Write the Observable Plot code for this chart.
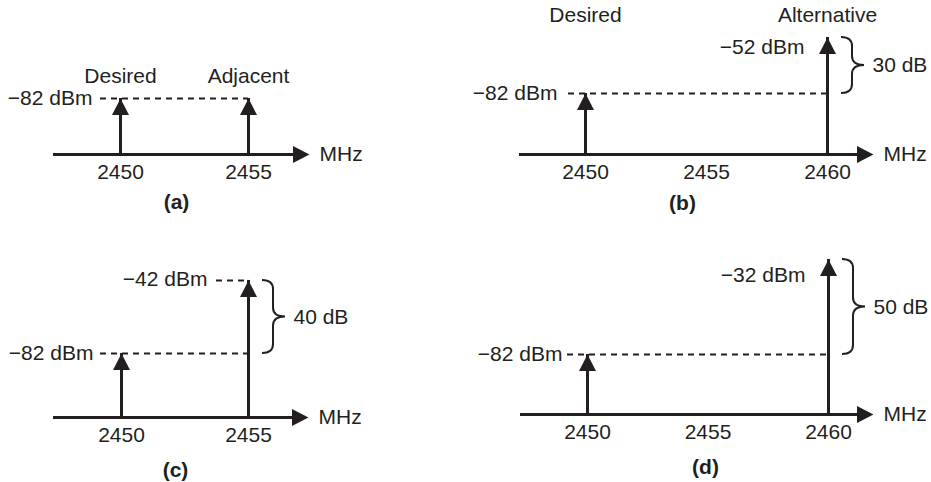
<!DOCTYPE html>
<html>
<head>
<meta charset="utf-8">
<script src="https://cdn.jsdelivr.net/npm/d3@7"></script>
<script src="https://cdn.jsdelivr.net/npm/@observablehq/plot@0.6"></script>
<style>
  body { margin: 0; background: #fff; }
  #chart { position: relative; width: 931px; height: 482px; font-family: "Liberation Sans", Arial, Helvetica, sans-serif; }
  #chart svg { position: absolute; overflow: visible; }
</style>
</head>
<body>
<div id="chart"></div>
<script>
// ---- Data ----
const panelLabels     = ["(a)", "(b)", "(c)", "(d)"];
const desiredFreq     = [2450, 2450, 2450, 2450];      // MHz
const desiredPower    = [-82, -82, -82, -82];          // dBm
const interfererFreq  = [2455, 2460, 2455, 2460];      // MHz
const interfererPower = [-82, -52, -42, -32];          // dBm
const rejectionDb     = [null, 30, 40, 50];            // dB difference shown by brace
const tickValues      = [[2450, 2455], [2450, 2455, 2460], [2450, 2455], [2450, 2455, 2460]];
const signalNames     = [["Desired", "Adjacent"], ["Desired", "Alternative"], [], []];
const unitLabel       = "MHz";

// ---- Layout / styling (not data) ----
const ink = "#231f20";
const layout = [
  {left: 0,   top: 0,   width: 440, height: 240, mL: 53, mR: 131, mB: 86, xIn: [67, 61], yDom: [-112, -29.5],
   names: "above", intLabel: null, dashIn: -20, descDx: -28, cap: {dx: -5, dy: 48}},
  {left: 440, top: 0,   width: 491, height: 240, mL: 79, mR: 58,  mB: 86, xIn: [66, 46], yDom: [-114.7, -32.2],
   names: "top", intLabel: {dx: -23, dy: 10, dash: null}, dashIn: -17, descDx: -28, cap: {dx: -14, dy: 49}},
  {left: 0,   top: 240, width: 440, height: 242, mL: 53, mR: 132, mB: 65, xIn: [68, 60], yDom: [-117.1, -20.1],
   names: null, intLabel: {dx: -41, dy: -1, dash: -32}, dashIn: -21, descDx: -28, cap: {dx: -5.5, dy: 53}},
  {left: 440, top: 240, width: 491, height: 242, mL: 80, mR: 58,  mB: 68, xIn: [67, 45], yDom: [-113.6, -22],
   names: null, intLabel: {dx: -23, dy: 16, dash: null}, dashIn: -20, descDx: -25, cap: {dx: 8.5, dy: 53}}
];

// filled arrowhead with its tip at the origin, pointing up
const arrowHead = {
  draw(ctx) {
    ctx.moveTo(0, 0);
    ctx.lineTo(8.5, 16.5);
    ctx.lineTo(-8.5, 16.5);
    ctx.closePath();
  }
};

const fmtDbm = v => (v < 0 ? "\u2212" : "") + Math.abs(v) + " dBm";

// curly brace drawn through the plot's scales
function braceMark(freq, pTop, pBot) {
  return (index, scales) => {
    const xs = scales.x(freq);
    const yT = scales.y(pTop), yB = scales.y(pBot);
    const yM = (yT + yB) / 2;
    const xe = xs + 14, xsp = xs + 25, xt = xs + 37, r = 9;
    const p = document.createElementNS("http://www.w3.org/2000/svg", "path");
    p.setAttribute("d",
      `M${xe},${yT} Q${xsp},${yT} ${xsp},${yT + r} L${xsp},${yM - r} Q${xsp},${yM} ${xt},${yM}` +
      ` Q${xsp},${yM} ${xsp},${yM + r} L${xsp},${yB - r} Q${xsp},${yB} ${xe},${yB}`);
    p.setAttribute("fill", "none");
    p.setAttribute("stroke", ink);
    p.setAttribute("stroke-width", 2);
    return p;
  };
}

const container = document.getElementById("chart");
const fs = 21;
const txt = {fontSize: fs, fill: ink, lineAnchor: "middle"};

panelLabels.forEach((label, i) => {
  const L = layout[i];
  const fd = desiredFreq[i], pd = desiredPower[i], fi = interfererFreq[i], pi = interfererPower[i];
  const floor = L.yDom[0];
  const signals = [{f: fd, p: pd, b: floor}, {f: fi, p: pi, b: floor}];
  const marks = [];

  // frequency axis with arrow
  marks.push(Plot.ruleY([floor], {stroke: ink, strokeWidth: 3, insetRight: 8}));
  marks.push(Plot.dot([0], {frameAnchor: "bottom-right", symbol: arrowHead, rotate: 90, fill: ink, stroke: "none"}));
  marks.push(Plot.text([unitLabel], {...txt, frameAnchor: "bottom-right", text: d => d, dx: 10, textAnchor: "start"}));

  // tick labels
  marks.push(Plot.text(tickValues[i], {...txt, x: d => d, frameAnchor: "bottom", dy: 18, text: d => String(d), textAnchor: "middle"}));

  // dashed reference at desired level
  marks.push(Plot.ruleY([{x1: fd, x2: fi, y: pd}], {x1: "x1", x2: "x2", y: "y", insetLeft: L.dashIn,
    stroke: ink, strokeWidth: 2, strokeDasharray: "6,5"}));

  // stems + arrowheads
  marks.push(Plot.ruleX(signals, {x: "f", y1: "p", y2: "b", stroke: ink, strokeWidth: 3}));
  marks.push(Plot.dot(signals, {x: "f", y: "p", symbol: arrowHead, fill: ink, stroke: "none"}));

  // desired level label
  marks.push(Plot.text([pd], {...txt, x: () => fd, y: d => d, text: fmtDbm, textAnchor: "end", dx: L.descDx}));

  // interferer level label
  if (L.intLabel) {
    marks.push(Plot.text([pi], {...txt, x: () => fi, y: d => d, text: fmtDbm, textAnchor: "end",
      dx: L.intLabel.dx, dy: L.intLabel.dy}));
    if (L.intLabel.dash != null) {
      marks.push(Plot.ruleY([{x1: fi, x2: fi, y: pi}], {x1: "x1", x2: "x2", y: "y", insetLeft: L.intLabel.dash,
        stroke: ink, strokeWidth: 2, strokeDasharray: "6,5"}));
    }
  }

  // signal names
  const names = signalNames[i].map((n, j) => ({n, f: signals[j].f, p: signals[j].p}));
  if (L.names === "above") {
    marks.push(Plot.text(names, {...txt, x: "f", y: "p", text: "n", dy: -22}));
  } else if (L.names === "top") {
    marks.push(Plot.text(names, {...txt, x: "f", frameAnchor: "top", text: "n", dy: 15, textAnchor: "middle"}));
  }

  // brace and dB difference
  if (rejectionDb[i] != null) {
    marks.push(braceMark(fi, pi, pd));
    marks.push(Plot.text([rejectionDb[i]], {...txt, x: () => fi, y: () => (pd + pi) / 2, text: d => d + " dB",
      dx: 45, textAnchor: "start"}));
  }

  // panel caption
  marks.push(Plot.text([label], {...txt, frameAnchor: "bottom", text: d => d, dx: L.cap.dx, dy: L.cap.dy,
    textAnchor: "middle", fontWeight: "bold"}));

  const svg = Plot.plot({
    width: L.width,
    height: L.height,
    marginLeft: L.mL,
    marginRight: L.mR,
    marginTop: 0,
    marginBottom: L.mB,
    x: {domain: [2450, tickValues[i][tickValues[i].length - 1]], insetLeft: L.xIn[0], insetRight: L.xIn[1], axis: null},
    y: {domain: L.yDom, axis: null},
    style: {fontFamily: "'Liberation Sans', Arial, Helvetica, sans-serif", fontSize: fs + "px", color: ink, background: "transparent", overflow: "visible"},
    marks
  });
  svg.style.left = L.left + "px";
  svg.style.top = L.top + "px";
  container.appendChild(svg);
});
</script>
</body>
</html>
